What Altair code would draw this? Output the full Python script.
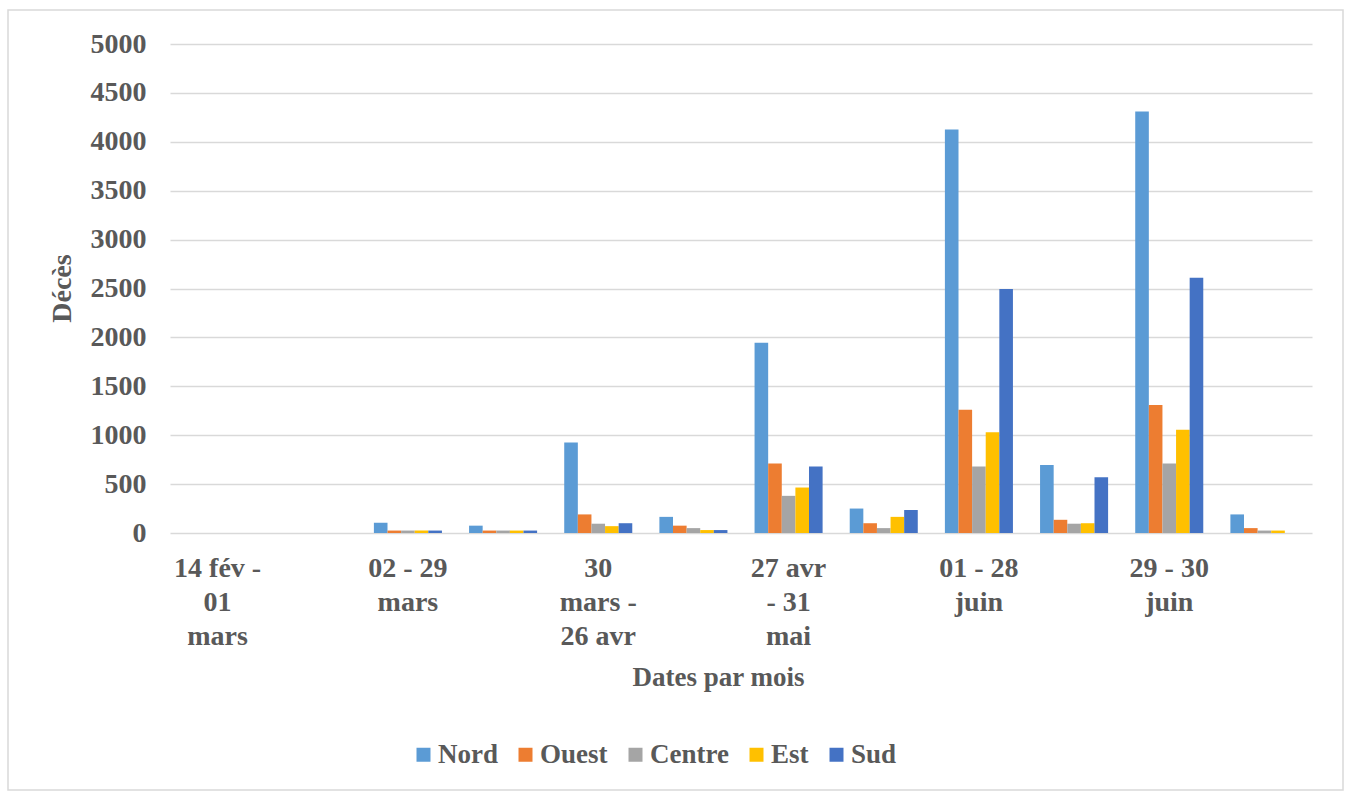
import json

import altair as alt
import pandas as pd

# Periods (every other one carries a label on the axis)
periodes = list(range(12))
etiquettes = [
    "14 fév -|01|mars", "",
    "02 - 29|mars", "",
    "30|mars -|26 avr", "",
    "27 avr|- 31|mai", "",
    "01 - 28|juin", "",
    "29 - 30|juin", "",
]

regions = ["Nord", "Ouest", "Centre", "Est", "Sud"]
couleurs = ["#5B9BD5", "#ED7D31", "#A5A5A5", "#FFC000", "#4472C4"]

# Deaths per region and period
nord = [0, 0, 105, 75, 925, 165, 1945, 250, 4125, 695, 4310, 190]
ouest = [0, 0, 25, 25, 190, 75, 710, 100, 1260, 135, 1310, 50]
centre = [0, 0, 25, 25, 95, 50, 380, 50, 680, 95, 710, 25]
est = [0, 0, 25, 25, 70, 30, 465, 165, 1030, 100, 1055, 25]
sud = [0, 0, 25, 25, 100, 30, 680, 235, 2495, 570, 2610, 0]

y_ticks = [0, 500, 1000, 1500, 2000, 2500, 3000, 3500, 4000, 4500, 5000]

rows = []
for region, valeurs in zip(regions, [nord, ouest, centre, est, sud]):
    for p, v in zip(periodes, valeurs):
        rows.append({"periode": p, "region": region, "deces": v})
df = pd.DataFrame(rows)

FONT = "Liberation Serif"
GRIS = "#595959"
label_expr = "split(" + json.dumps(etiquettes, ensure_ascii=False) + "[datum.value], '|')"

bars = alt.Chart(df).mark_bar().encode(
    x=alt.X(
        "periode:O",
        title="Dates par mois",
        scale=alt.Scale(paddingInner=0.285, paddingOuter=0.1425),
        axis=alt.Axis(
            labelExpr=label_expr,
            labelAngle=0,
            labelAlign="center",
            labelBaseline="top",
            labelFont=FONT,
            labelFontWeight="bold",
            labelFontSize=28,
            labelColor=GRIS,
            labelLineHeight=34,
            labelPadding=21,
            domain=False,
            ticks=False,
            titleFont=FONT,
            titleFontWeight="bold",
            titleFontSize=27,
            titleColor=GRIS,
            titleX=548,
            titleY=144,
            titleAlign="center",
            titleBaseline="middle",
        ),
    ),
    xOffset=alt.XOffset(
        "region:N", sort=regions, scale=alt.Scale(paddingInner=0, paddingOuter=0)
    ),
    y=alt.Y(
        "deces:Q",
        title="Décès",
        scale=alt.Scale(domain=[0, 5000], nice=False),
        axis=alt.Axis(
            values=y_ticks,
            format="d",
            labelFont=FONT,
            labelFontWeight="bold",
            labelFontSize=28,
            labelColor=GRIS,
            labelPadding=24,
            domain=False,
            ticks=False,
            gridColor="#D9D9D9",
            gridWidth=1.5,
            titleFont=FONT,
            titleFontWeight="bold",
            titleFontSize=28,
            titleColor=GRIS,
            titleAngle=-90,
            titleX=-108,
            titleY=244,
            titleAlign="center",
            titleBaseline="middle",
        ),
    ),
    color=alt.Color(
        "region:N",
        sort=regions,
        scale=alt.Scale(domain=regions, range=couleurs),
        legend=alt.Legend(
            title=None,
            orient="none",
            direction="horizontal",
            legendX=240,
            legendY=697,
            padding=0,
            symbolType="square",
            symbolSize=196,
            symbolStrokeWidth=0,
            labelFont=FONT,
            labelFontWeight="bold",
            labelFontSize=27,
            labelColor=GRIS,
            labelOffset=1,
            columnPadding=14,
        ),
    ),
)

# Thin frame around the whole chart area
cadre = alt.Chart(alt.Data(values=[{}])).mark_rect(
    filled=False, stroke="#D9D9D9", strokeWidth=1.5
).encode(
    x=alt.value(-162), x2=alt.value(1173), y=alt.value(-34), y2=alt.value(746)
)

chart = (
    alt.layer(cadre, bars)
    .properties(
        width=1142,
        height=489,
        padding={"left": 170, "top": 44, "right": 33, "bottom": 259},
        autosize=alt.AutoSizeParams(type="none"),
        background="white",
    )
    .configure_view(stroke=None)
)

chart.save("out.html", embed_options={"renderer": "svg", "actions": False})
